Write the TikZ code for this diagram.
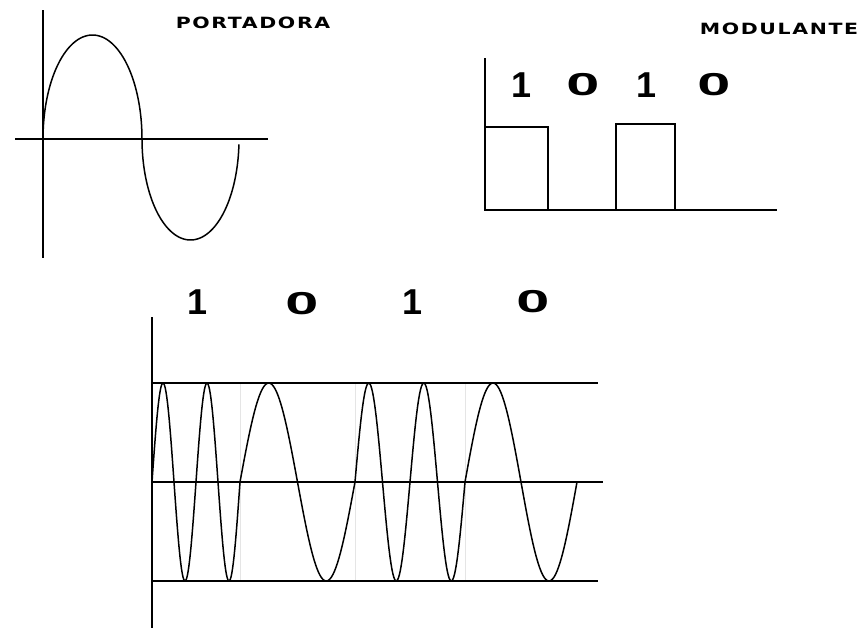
\documentclass[tikz,border=0pt]{standalone}
\usepackage{fontspec}
\setmainfont{DejaVu Sans}
\newfontfamily\lblfont[LetterSpace=8]{DejaVu Sans Bold}
\newfontfamily\digfont{Liberation Sans Bold}
\begin{document}
\begin{tikzpicture}[x=1pt,y=-1pt,
  axis/.style={line width=1.7pt, black},
  wave/.style={line width=1.5pt, black, line join=round},
  bitline/.style={line width=1pt, black!10},
  lbl/.style={inner sep=0pt, font=\lblfont\fontsize{15.5}{15.5}\selectfont},
  dig/.style={inner sep=0pt, anchor=base, font=\digfont\fontsize{36}{36}\selectfont}]
\fill[white] (0,0) rectangle (863,629);
\useasboundingbox (0,0) rectangle (863,629);

% ---- Portadora ----
\node[lbl] (port) at (253,23) {\scalebox{1.32}[1]{PORTADORA}};
\draw[axis] (43,10) -- (43,258);
\draw[axis] (15,139) -- (268,139);
\draw[wave] plot[domain=180:360, samples=80] ({92.5+49.5*cos(\x)}, {139+104*sin(\x)})
  -- plot[domain=180:3, samples=80] ({190.5+48.5*cos(\x)}, {139+101*sin(\x)});

% ---- Modulante ----
\node[lbl] (mod) at (779,29) {\scalebox{1.32}[1]{MODULANTE}};
\draw[axis] (485,58) -- (485,210) -- (777,210);
\draw[axis] (485,127) -- (548,127) -- (548,210);
\draw[axis] (616,210) -- (616,124) -- (675,124) -- (675,210);
\node[dig] (m1) at (522,97) {1};
\node[dig] (m2) at (583,95) {\scalebox{1.65}[0.88]{0}};
\node[dig] (m3) at (647,97) {1};
\node[dig] (m4) at (714,95) {\scalebox{1.65}[0.88]{0}};

% ---- Modulada ----
\node[dig] (b1) at (198,314) {1};
\node[dig] (b2) at (302,314) {\scalebox{1.65}[0.88]{0}};
\node[dig] (b3) at (413,314) {1};
\node[dig] (b4) at (533,312) {\scalebox{1.65}[0.88]{0}};
\draw[bitline] (240,383) -- (240,581);
\draw[bitline] (355,383) -- (355,581);
\draw[bitline] (465,383) -- (465,581);
\draw[axis] (152,317) -- (152,628);
\draw[axis] (152,383) -- (598,383);
\draw[axis] (152,482) -- (603,482);
\draw[axis] (152,581) -- (598,581);
\draw[wave] plot[domain=0:1, samples=120] ({152+88*\x}, {482-99*sin(720*\x)})
  -- plot[domain=0:1, samples=80] ({240+115*\x}, {482-99*sin(360*\x)})
  -- plot[domain=0:1, samples=120] ({355+110*\x}, {482-99*sin(720*\x)})
  -- plot[domain=0:1, samples=80] ({465+112*\x}, {482-99*sin(360*\x)});
\end{tikzpicture}
\end{document}
